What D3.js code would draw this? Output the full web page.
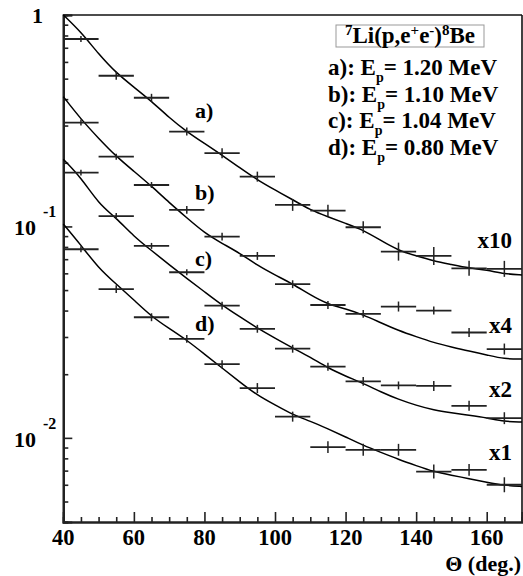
<!DOCTYPE html>
<html><head><meta charset="utf-8">
<script src="https://cdn.jsdelivr.net/npm/d3@7"></script>
<style>
body{margin:0;background:#fff;}
svg text{font-family:"Liberation Serif",Times,"Times New Roman","DejaVu Serif",serif;font-weight:bold;fill:#000;}
</style></head>
<body><svg id="c" width="523" height="576"></svg>
<script>
// measured angles (deg) and cross sections (arb. units, scaled)
const theta = [45,55,65,75,85,95,105,115,125,135,145,155,165];
const binHalf = 5;
const dataA = [0.770,0.516,0.406,0.281,0.222,0.172,0.1264,0.1188,0.0991,0.0760,0.0725,0.0634,0.0630];
const dataB = [0.310,0.2138,0.157,0.1197,0.0895,0.0725,0.0533,0.0425,0.0386,0.0418,0.0400,0.0315,0.0263];
const dataC = [0.1797,0.112,0.0809,0.0607,0.0422,0.0328,0.0264,0.0217,0.0185,0.0177,0.0176,0.01417,0.01239];
const dataD = [0.0780,0.0505,0.0372,0.0294,0.0223,0.0172,0.0126,0.00904,0.00878,0.00878,0.00693,0.00706,0.00600];
// relative errors
const errA = [0.033,0.044,0.044,0.044,0.056,0.056,0.067,0.067,0.067,0.103,0.103,0.085,0.091];
const errB = [0.033,0.033,0.033,0.044,0.044,0.044,0.044,0.044,0.044,0.056,0.044,0.05,0.062];
const errC = [0.033,0.033,0.033,0.033,0.044,0.044,0.044,0.044,0.05,0.044,0.056,0.056,0.067];
const errD = [0.033,0.044,0.044,0.044,0.044,0.056,0.056,0.067,0.067,0.067,0.079,0.067,0.085];
// simulation curves
const curveTheta = [40,45,50,55,60,65,70,75,80,85,90,95,100,105,110,115,120,125,130,135,140,145,150,155,160,165,170];
const curveA = [1.0,0.831,0.654,0.532,0.456,0.391,0.327,0.2804,0.2468,0.2171,0.1897,0.1659,0.1488,0.1338,0.1197,0.1111,0.1034,0.0963,0.0857,0.0770,0.0726,0.0687,0.0661,0.0635,0.0623,0.0596,0.0590];
const curveB = [0.411,0.3216,0.2610,0.2143,0.1824,0.1550,0.1297,0.1099,0.0932,0.0831,0.0748,0.0654,0.0589,0.0535,0.0474,0.0428,0.0408,0.0382,0.0350,0.0322,0.0301,0.0282,0.0269,0.0257,0.0247,0.0236,0.0236];
const curveC = [0.2078,0.1705,0.1282,0.1097,0.0897,0.0769,0.0660,0.0568,0.0491,0.0424,0.0374,0.0330,0.0296,0.0266,0.0241,0.0214,0.0196,0.0181,0.0165,0.0152,0.01426,0.01353,0.01313,0.01279,0.01245,0.01193,0.01187];
const curveD = [0.1028,0.0816,0.0635,0.0534,0.0449,0.0375,0.0329,0.0290,0.0249,0.0214,0.0184,0.0159,0.01432,0.01287,0.0120,0.01103,0.0101,0.00922,0.00854,0.00791,0.00739,0.00692,0.00666,0.00641,0.00617,0.00596,0.00589];
const curveLabels = ["a)","b)","c)","d)"];
const scaleLabels = ["x10","x4","x2","x1"];
const energies = ["1.20","1.10","1.04","0.80"];
const xMajor = [40,60,80,100,120,140,160];

const svg = d3.select("#c");
const FONT = '"Liberation Serif", Times, "Times New Roman", "DejaVu Serif", serif';
const L=63.3, R=522, T=15, B=522;
const x = d3.scaleLinear().domain([40,170]).range([L,R]);
const y = d3.scaleLog().domain([0.004,1]).range([B,T]);

// frame
svg.append("line").attr("x1",L).attr("x2",R).attr("y1",T).attr("y2",T).attr("stroke","#111").attr("stroke-width",1.6);
svg.append("line").attr("x1",R).attr("x2",R).attr("y1",T).attr("y2",B).attr("stroke","#111").attr("stroke-width",1.6);

// y axis ticks (inside)
const yMaj = [0.01,0.1,1];
const yMin = y.ticks().filter(v=>!yMaj.some(m=>Math.abs(m-v)<1e-9));
const gy1 = svg.append("g").attr("transform",`translate(${L},0)`)
  .call(d3.axisLeft(y).tickValues(yMin).tickSize(-5).tickFormat(""));
const gy2 = svg.append("g").attr("transform",`translate(${L},0)`)
  .call(d3.axisLeft(y).tickValues(yMaj).tickSize(-9).tickFormat(""));
// x axis ticks
const xMin = d3.range(40,171,5).filter(v=>!xMajor.includes(v));
const gx1 = svg.append("g").attr("transform",`translate(0,${B})`)
  .call(d3.axisBottom(x).tickValues(xMin).tickSize(-5).tickFormat(""));
const gx2 = svg.append("g").attr("transform",`translate(0,${B})`)
  .call(d3.axisBottom(x).tickValues(xMajor).tickSize(-10).tickFormat(""));
[gy1,gy2,gx1,gx2].forEach(g=>{
  g.selectAll("path").attr("stroke","#222").attr("stroke-width",2.2);
  g.selectAll("line").attr("stroke","#222").attr("stroke-width",1.6);
});

function T_(sel){return sel.attr("font-family",FONT).attr("font-weight","bold");}

// x tick labels
T_(svg.selectAll("text.xl").data(xMajor).join("text").attr("class","xl"))
  .attr("x",d=>x(d)).attr("y",545).attr("text-anchor","middle").attr("font-size",22.5).text(d=>d);
// y labels
T_(svg.append("text")).attr("x",43).attr("y",y(1)+8).attr("text-anchor","end").attr("font-size",22).text("1");
[[0.1,"-1"],[0.01,"-2"]].forEach(([v,e])=>{
  T_(svg.append("text")).attr("x",36).attr("y",y(v)+9).attr("text-anchor","end").attr("font-size",22).text("10");
  T_(svg.append("text")).attr("x",43).attr("y",y(v)-9).attr("text-anchor","start").attr("font-size",16).text(e);
});
T_(svg.append("text")).attr("x",521).attr("y",571).attr("text-anchor","end").attr("font-size",22).text("Θ (deg.)");

// curves
const line = d3.line().x(d=>x(d[0])).y(d=>y(d[1])).curve(d3.curveBasis);
[curveA,curveB,curveC,curveD].forEach(cv=>{
  svg.append("path").datum(curveTheta.map((t,i)=>[t,cv[i]]))
    .attr("d",line).attr("fill","none").attr("stroke","#000").attr("stroke-width",1.5);
});

// data with error bars
const series = [[dataA,errA],[dataB,errB],[dataC,errC],[dataD,errD]];
series.forEach(([vals,errs])=>{
  const g = svg.append("g");
  theta.forEach((t,i)=>{
    const v=vals[i], e=errs[i];
    g.append("line").attr("x1",x(t-binHalf)).attr("x2",x(t+binHalf)).attr("y1",y(v)).attr("y2",y(v))
      .attr("stroke","#222").attr("stroke-width",1.8);
    g.append("line").attr("x1",x(t)).attr("x2",x(t)).attr("y1",y(v*(1+e))).attr("y2",y(v/(1+e)))
      .attr("stroke","#222").attr("stroke-width",1.5);
  });
});

// curve labels
const labY=[118,200,266,331];
curveLabels.forEach((s,i)=>T_(svg.append("text")).attr("x",195).attr("y",labY[i]).attr("font-size",22).text(s));
const scY=[248,333,397,460];
scaleLabels.forEach((s,i)=>T_(svg.append("text")).attr("x",512).attr("y",scY[i]).attr("text-anchor","end").attr("font-size",23).text(s));

// legend
svg.append("rect").attr("x",336).attr("y",25).attr("width",148).attr("height",22)
  .attr("fill","#fff").attr("stroke","#999").attr("stroke-width",1);
const tt = T_(svg.append("text")).attr("x",410).attr("y",43).attr("text-anchor","middle").attr("font-size",23);
tt.append("tspan").attr("font-size",15).attr("dy",-8).text("7");
tt.append("tspan").attr("dy",8).text("Li(p,e");
tt.append("tspan").attr("font-size",15).attr("dy",-8).text("+");
tt.append("tspan").attr("dy",8).text("e");
tt.append("tspan").attr("font-size",15).attr("dy",-8).text("-");
tt.append("tspan").attr("dy",8).text(")");
tt.append("tspan").attr("font-size",15).attr("dy",-8).text("8");
tt.append("tspan").attr("dy",8).text("Be");
const legY=[75,101.5,128,154.5];
curveLabels.forEach((s,i)=>{
  const t = T_(svg.append("text")).attr("x",328).attr("y",legY[i]).attr("font-size",23);
  t.append("tspan").text(s+": E");
  t.append("tspan").attr("font-size",14).attr("dy",7).text("p");
  t.append("tspan").attr("dy",-7).text("= "+energies[i]+" MeV");
});
</script></body></html>
